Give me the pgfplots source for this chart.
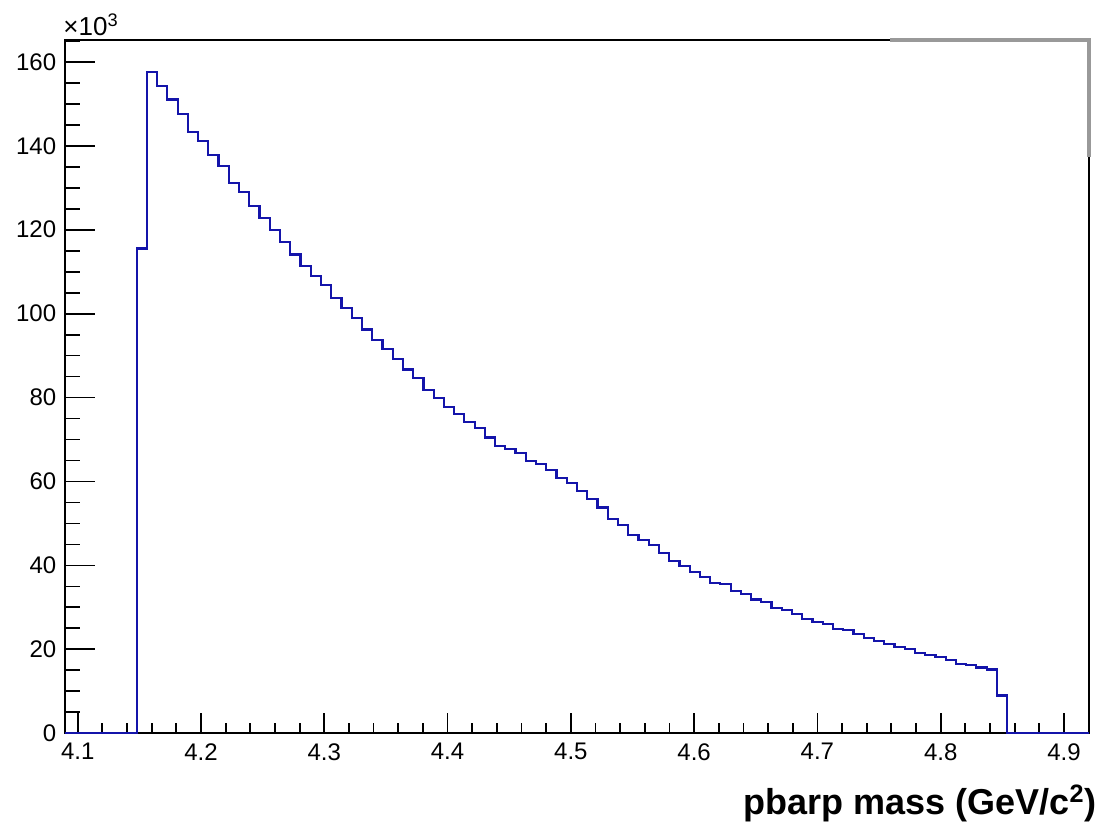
\documentclass[border=0pt]{standalone}
\usepackage{fontspec}
\setmainfont{Liberation Sans}
\usepackage{pgfplots}
\usepackage{pgfplotstable}
\pgfplotsset{compat=1.18}
\definecolor{histblue}{RGB}{20,20,170}
\definecolor{framegray}{RGB}{153,153,153}
\pgfplotstableread{
x y
4.0897 0
4.14784 115.5
4.15615 157.5
4.16445 154.3
4.17276 151.0
4.18107 147.5
4.18937 143.3
4.19768 141.2
4.20598 137.8
4.21429 135.2
4.22260 131.1
4.23090 129.0
4.23921 125.6
4.24751 122.8
4.25582 119.9
4.26413 117.0
4.27243 114.1
4.28074 111.3
4.28904 109.0
4.29735 106.9
4.30566 103.8
4.31396 101.4
4.32227 98.9
4.33057 96.2
4.33888 93.7
4.34719 91.5
4.35549 89.1
4.36380 86.7
4.37210 84.6
4.38041 81.8
4.38872 79.9
4.39702 77.8
4.40533 76.1
4.41363 74.2
4.42194 72.7
4.43025 70.5
4.43855 68.4
4.44686 67.7
4.45516 66.7
4.46347 64.9
4.47178 64.1
4.48008 62.8
4.48839 60.8
4.49669 59.7
4.50500 57.8
4.51331 55.8
4.52161 53.8
4.52992 51.1
4.53822 49.7
4.54653 47.3
4.55484 46.0
4.56314 44.9
4.57145 42.9
4.57975 41.0
4.58806 39.9
4.59637 38.4
4.60467 37.3
4.61298 35.8
4.62128 35.5
4.62959 34.0
4.63790 33.1
4.64620 31.9
4.65451 31.3
4.66281 29.9
4.67112 29.4
4.67943 28.4
4.68773 27.2
4.69604 26.5
4.70434 26.1
4.71265 24.9
4.72096 24.7
4.72926 23.7
4.73757 22.7
4.74587 22.0
4.75418 21.3
4.76249 20.6
4.77079 20.0
4.77910 19.2
4.78740 18.7
4.79571 18.2
4.80402 17.4
4.81232 16.6
4.82063 16.3
4.82893 15.7
4.83724 15.2
4.84555 9.0
4.85385 0
4.9203 0
}\histdata
\begin{document}
\begin{tikzpicture}
\begin{axis}[
  at={(0,0)}, anchor=south west,
  width=512pt, height=346.65pt, scale only axis,
  clip mode=individual,
  xmin=4.0897, xmax=4.9203,
  ymin=0, ymax=165.2,
  axis line style={line width=0.8pt, black},
  tick align=inside,
  xtick pos=bottom, ytick pos=left,
  xtick={4.1,4.2,4.3,4.4,4.5,4.6,4.7,4.8,4.9},
  xticklabels={4.1,4.2,4.3,4.4,4.5,4.6,4.7,4.8,4.9},
  minor xtick={4.12,4.14,4.16,4.18,4.22,4.24,4.26,4.28,4.32,4.34,4.36,4.38,4.42,4.44,4.46,4.48,4.52,4.54,4.56,4.58,4.62,4.64,4.66,4.68,4.72,4.74,4.76,4.78,4.82,4.84,4.86,4.88,4.92},
  ytick={0,20,40,60,80,100,120,140,160},
  yticklabels={0,20,40,60,80,100,120,140,160},
  minor ytick={5,10,15,25,30,35,45,50,55,65,70,75,85,90,95,105,110,115,125,130,135,145,150,155,165},
  xtick style={line width=0.9pt, black, /pgfplots/major tick length=10.3pt, /pgfplots/minor tick length=5pt},
  ytick style={line width=0.9pt, black, /pgfplots/major tick length=15pt, /pgfplots/minor tick length=7.5pt},
  /pgf/number format/assume math mode=true,
  ticklabel style={font=\fontsize{12}{14}\selectfont},
  xticklabel style={inner sep=0pt, yshift=-4.8pt},
  yticklabel style={inner sep=0pt, xshift=-4.2pt},
  scaled y ticks=false,
  xlabel={pbarp mass (GeV/c\textsuperscript{2})},
  xlabel style={at={(axis description cs:1,0)}, anchor=base east, inner sep=0pt,
    xshift=4pt, yshift=-40.85pt, font=\bfseries\fontsize{18}{20}\selectfont},
]
\addplot[const plot mark left, histblue, line width=1.1pt, mark=none] table[x=x, y=y] {\histdata};
\draw[framegray, line width=2pt] (rel axis cs:0.8057,1) -- (rel axis cs:1,1) -- (rel axis cs:1,0.8317);
\node[anchor=base west, inner sep=0pt, font=\fontsize{13}{15}\selectfont] at (rel axis cs:0,1) [xshift=-1pt, yshift=2.5pt] {×10\textsuperscript{3}};
\end{axis}
\pgfresetboundingbox
\path[use as bounding box] (-32.5pt,-45.85pt) rectangle (520pt,366.65pt);
\end{tikzpicture}
\end{document}
